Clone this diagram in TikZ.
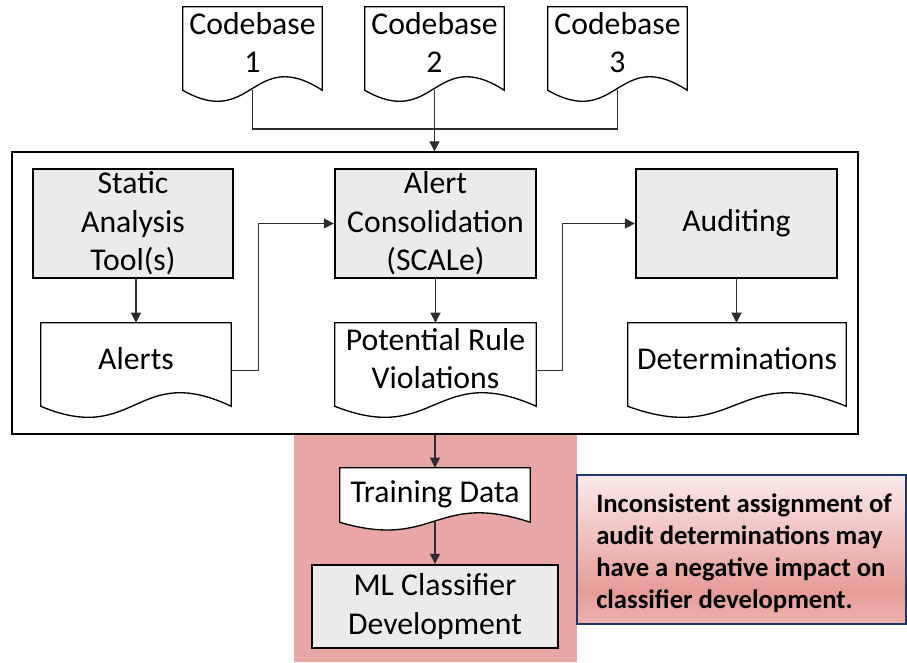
\documentclass[tikz,border=0pt]{standalone}
\usepackage{fontspec}
\setmainfont{Carlito}
\usetikzlibrary{arrows.meta,calc,fit}
\definecolor{pinkbg}{RGB}{232,167,164}
\definecolor{boxgray}{RGB}{235,235,235}
\definecolor{navy}{RGB}{31,56,100}
\definecolor{noteTop}{RGB}{251,234,234}
\definecolor{noteMid}{RGB}{230,156,151}
\definecolor{noteBot}{RGB}{238,178,175}
\definecolor{connc}{RGB}{45,45,45}
\pgfdeclareverticalshading{noteshade}{100bp}{color(0bp)=(noteBot); color(25bp)=(noteBot); color(36bp)=(noteMid); color(75bp)=(noteTop); color(100bp)=(noteTop)}
\tikzset{
  txt/.style={align=center, inner sep=0pt, font=\fontsize{23.8pt}{29pt}\selectfont},
  graybox/.style={draw=black, line width=1.7pt, fill=boxgray, inner sep=0pt},
  docline/.style={draw=black, line width=1pt, fill=white},
  conn/.style={draw=connc, line width=0.8pt},
  arr/.style={conn, -{Triangle[length=7.5pt,width=7.5pt]}},
}
% name, corner NW, corner SE (side bottom), wave amplitude, text shift, text
\newcommand\docnode[6]{%
  \node[fit={#2 #3}, inner sep=0pt] (#1) {};
  \draw[docline] (#1.north west) -- (#1.north east) -- (#1.south east)
    .. controls ($(#1.south)+(0,-4.5*#4)$) and ($(#1.south)+(0,4*#4)$) .. (#1.south west) -- cycle;
  \node[txt] (#1T) at ($(#1.center)+(0,#5)$) {#6};
}
% name, corner NW, corner SE, text
\newcommand\procnode[4]{%
  \node[graybox, fit={#2 #3}] (#1) {};
  \node[txt] (#1T) at (#1.center) {#4};
}
\begin{document}
\begin{tikzpicture}[x=0.75pt,y=-0.75pt]
\useasboundingbox (0,0) rectangle (907,662);
% pink zone
\node[fit={(294,434)(577,662)}, fill=pinkbg, inner sep=0pt] (zone) {};
% outer frame
\node[fit={(12,152)(858,434)}, draw=black, line width=1pt, fill=white, inner sep=0pt] (outer) {};
% codebases
\docnode{cbA}{(183,7)}{(322,90)}{10}{-6}{Codebase\\1}
\docnode{cbB}{(365,7)}{(504,90)}{10}{-6}{Codebase\\2}
\docnode{cbC}{(548,7)}{(687,90)}{10}{-6}{Codebase\\3}
% process boxes
\procnode{sat}{(33,169)}{(233,278)}{Static\\Analysis\\Tool(s)}
\procnode{cons}{(335,169)}{(536,278)}{Alert\\Consolidation\\(SCALe)}
\procnode{aud}{(636,169)}{(837,278)}{Auditing}
% documents
\docnode{alerts}{(41,323)}{(231,406)}{10}{-6}{Alerts}
\docnode{prv}{(335,323)}{(536,406)}{10}{-6}{Potential Rule\\Violations}
\docnode{det}{(628,323)}{(846,406)}{10}{-6}{Determinations}
\docnode{train}{(340,468)}{(530,522)}{7}{-1}{Training Data}
\procnode{ml}{(312,565)}{(558,648)}{ML Classifier\\Development}
% callout
\node[fit={(577,475)(906,624)}, draw=navy, line width=1.5pt, shading=noteshade, inner sep=0pt] (note) {};
\node[anchor=west, align=left, inner sep=0pt, font=\bfseries\fontsize{20pt}{24pt}\selectfont] (noteT) at ($(note.west)+(20,4)$) {Inconsistent assignment of\\audit determinations may\\have a negative impact on\\classifier development.};
% connectors
\coordinate (cbjoin) at (435,129);
\draw[conn] (cbA.south) |- (cbjoin) -| (cbC.south);
\draw[arr] (cbB.south) -- (cbB.south |- outer.north);
\draw[arr] (alerts.north |- sat.south) -- (alerts.north);
\draw[arr] ($(alerts.east)+(0,6)$) -- ++(27,0) |- (cons.west);
\draw[arr] (cons.south) -- (cons.south |- prv.north);
\draw[arr] ($(prv.east)+(0,6)$) -- ++(26,0) |- (aud.west);
\draw[arr] (aud.south) -- (aud.south |- det.north);
\draw[arr] (outer.south) -- (outer.south |- train.north);
\draw[arr] (train.south) -- (train.south |- ml.north);
\end{tikzpicture}
\end{document}
